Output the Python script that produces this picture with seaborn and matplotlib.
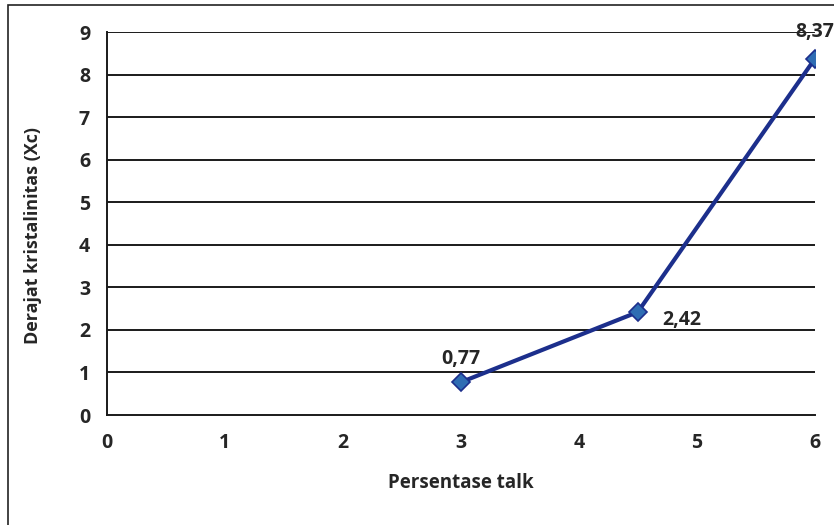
import matplotlib
matplotlib.use("Agg")
import matplotlib.pyplot as plt
import seaborn as sns
import pandas as pd
from matplotlib.patches import Rectangle

# Data
persentase_talk = [3.0, 4.5, 6.0]
kristalinitas = [0.77, 2.42, 8.37]
value_labels = ["0,77", "2,42", "8,37"]
x_ticks = [0, 1, 2, 3, 4, 5, 6]
y_ticks = [0, 1, 2, 3, 4, 5, 6, 7, 8, 9]

df = pd.DataFrame({"talk": persentase_talk, "xc": kristalinitas})

sns.set_style("white")
plt.rcParams["font.family"] = ["Open Sans", "DejaVu Sans"]

fig = plt.figure(figsize=(8.34, 5.25), dpi=100)
ax = fig.add_axes([0.128, 0.2095, 0.849, 0.7295])

# chart-area border
fig.patches.append(Rectangle((8 / 834, -0.01), 1.0, 1 - 5 / 525 + 0.01,
                             transform=fig.transFigure, fill=False,
                             edgecolor="#222222", linewidth=1.2, zorder=0))

sns.lineplot(data=df, x="talk", y="xc", ax=ax, color="#1c2f8c", linewidth=3,
             marker="D", markersize=9, markerfacecolor="#2f6db3",
             markeredgecolor="#1c2f8c", markeredgewidth=1.2, zorder=5)

ax.set_xlim(0, 6)
ax.set_ylim(0, 9)
ax.set_xticks(x_ticks)
ax.set_yticks(y_ticks)
ax.set_xticklabels([str(v) for v in x_ticks], fontsize=14, fontweight="bold")
ax.set_yticklabels([str(v) for v in y_ticks], fontsize=14, fontweight="bold")
ax.tick_params(axis="x", pad=13, length=0)
ax.tick_params(axis="y", pad=12, length=0)

for y in y_ticks[1:]:
    ax.axhline(y, color="#1a1a1a", linewidth=1.4, zorder=1)

for side in ["top", "right"]:
    ax.spines[side].set_visible(False)
for side in ["left", "bottom"]:
    ax.spines[side].set_color("#1a1a1a")
    ax.spines[side].set_linewidth(1.4)

ax.set_xlabel("Persentase talk", fontsize=13.5, fontweight="bold", labelpad=14)
ax.set_ylabel("Derajat kristalinitas (Xc)", fontsize=13, fontweight="bold")
ax.yaxis.set_label_coords(-0.092, 0.47)

offsets = [(0, 17), (32, -6), (0, 19)]
for x, y, lab, off in zip(persentase_talk, kristalinitas, value_labels, offsets):
    ax.annotate(lab, (x, y), xytext=off, textcoords="offset points",
                ha="center", va="center", fontsize=14, fontweight="bold",
                annotation_clip=False, zorder=6)

fig.savefig("out.png", dpi=100, facecolor="white")
